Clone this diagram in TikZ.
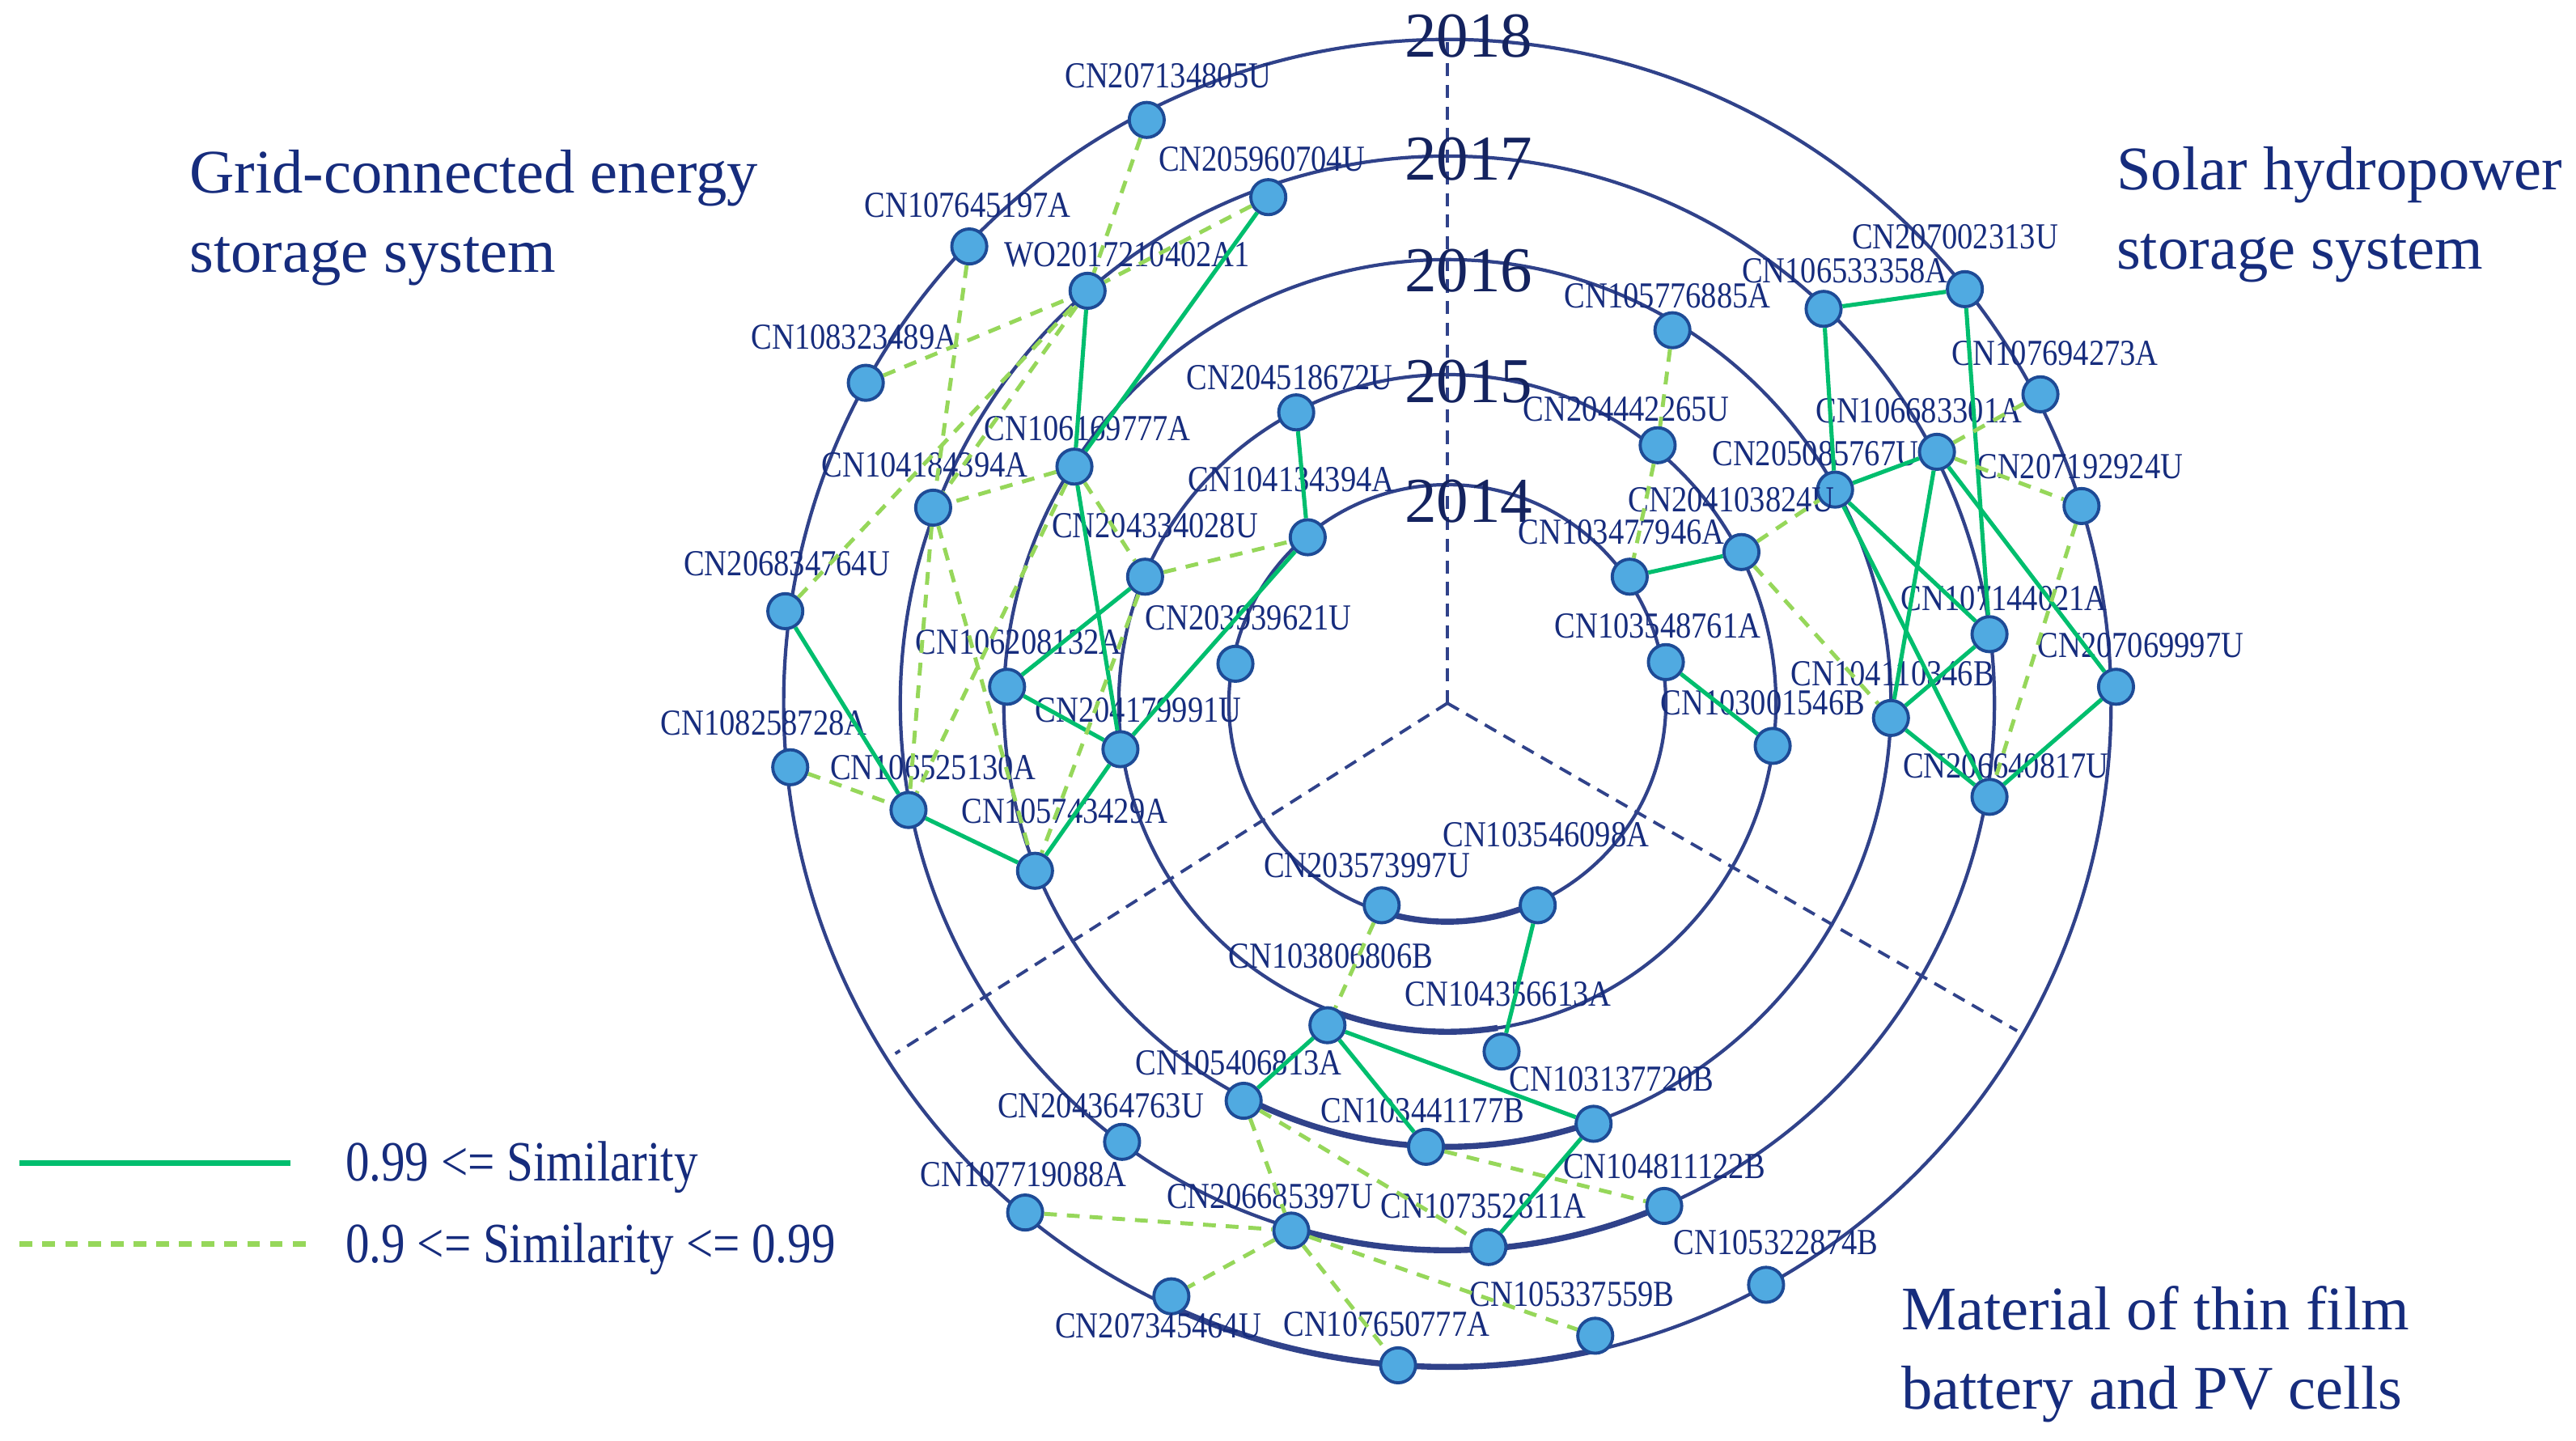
\documentclass[tikz,border=0pt]{standalone}
\usepackage{fontspec}
\setmainfont{Liberation Serif}
\newfontfamily\lblfont{Liberation Serif}[FakeStretch=0.85]
\newfontfamily\legfont{Liberation Serif}[FakeStretch=0.84]
\definecolor{textc}{RGB}{22,44,125}
\definecolor{yearc}{RGB}{20,35,95}
\definecolor{ringc}{RGB}{48,66,138}
\definecolor{nodef}{RGB}{80,170,225}
\definecolor{nodeb}{RGB}{30,75,150}
\definecolor{hic}{RGB}{0,190,110}
\definecolor{midc}{RGB}{150,215,90}
\newcommand{\patent}[4]{\node[pnode] (#1) at (#2) {}; \node[plabel] (#1t) at (#3) {#4};}
\begin{document}
\begin{tikzpicture}[x=0.20306mm,y=-0.20306mm,
  ring/.style={draw=ringc, line width=1.2pt},
  thickarc/.style={draw=ringc, line width=2.1pt},
  sector/.style={draw=ringc, line width=1.1pt, dash pattern=on 4.6pt off 3pt},
  pnode/.style={circle, draw=nodeb, fill=nodef, line width=1.1pt, minimum size=12.3pt, inner sep=0pt},
  plabel/.style={font=\lblfont\fontsize{12.9}{14}\selectfont, text=textc, inner sep=0pt},
  hi/.style={draw=hic, line width=1.45pt},
  mid/.style={draw=midc, line width=1.4pt, dash pattern=on 4.5pt off 3.5pt},
  title/.style={font=\fontsize{21.8}{27.7}\selectfont, text=textc, inner sep=0pt, anchor=base west},
  year/.style={font=\fontsize{22.5}{26}\selectfont, text=yearc, inner sep=0pt},
  legtext/.style={font=\legfont\fontsize{20}{24}\selectfont, text=textc, inner sep=0pt, anchor=base west}]
\useasboundingbox (0,0) rectangle (1568,877);
\coordinate (C) at (881,428);
% rings
\draw[ring] (C) circle[radius=133];
\draw[ring] (C) circle[radius=200];
\draw[ring] (C) circle[radius=270];
\draw[ring] (C) circle[radius=333];
\draw[ring] (C) circle[radius=404];
% bolder arcs at the bottom
\draw[thickarc] (C) ++(65.9:133) arc[start angle=65.9, end angle=108, radius=133];
\draw[thickarc] (C) ++(81.2:200) arc[start angle=81.2, end angle=110.4, radius=200];
\draw[thickarc] (C) ++(70.8:270) arc[start angle=70.8, end angle=117.1, radius=270];
\draw[thickarc] (C) ++(66.7:333) arc[start angle=66.7, end angle=106.5, radius=333];
\draw[thickarc] (C) ++(76.8:404) arc[start angle=76.8, end angle=115, radius=404];
% sector lines
\draw[sector] (C) -- ++(-90:406);
\draw[sector] (C) -- ++(147.6:398);
\draw[sector] (C) -- ++(29.9:400);
% year labels
\node[year] (y18) at (894,22) {2018};
\node[year] (y17) at (894,97) {2017};
\node[year] (y16) at (894,165) {2016};
\node[year] (y15) at (894,232) {2015};
\node[year] (y14) at (894,305) {2014};
% titles
\node[title] (t1a) at (115,117.5) {Grid-connected energy};
\node[title] (t1b) at (115,165.5) {storage system};
\node[title] (t2a) at (1288,115.5) {Solar hydropower};
\node[title] (t2b) at (1288,163.5) {storage system};
\node[title] (t3a) at (1157,809.5) {Material of thin film};
\node[title] (t3b) at (1157,857.5) {battery and PV cells};
% left group
\patent{n1}{698,73}{711,46}{CN207134805U}
\patent{n2}{772,120}{768,97}{CN205960704U}
\patent{n3}{590,150}{589,125}{CN107645197A}
\patent{n4}{662,177}{686,155}{WO2017210402A1}
\patent{n5}{527,233}{520,205}{CN108323489A}
\patent{n6}{654,284}{662,261}{CN106169777A}
\patent{n7}{568,309}{563,283}{CN104184394A}
\patent{n8}{789,251}{785,230}{CN204518672U}
\patent{n9}{796,327}{786,292}{CN104134394A}
\patent{n10}{697,351}{703,320}{CN204334028U}
\patent{n11}{478,372}{479,343}{CN206834764U}
\patent{n12}{613,418}{620,391}{CN106208132A}
\patent{n13}{752,404}{760,376}{CN203939621U}
\patent{n14}{682,456}{693,432}{CN204179991U}
\patent{n15}{481,467}{465,440}{CN108258728A}
\patent{n16}{553,493}{568,467}{CN106525130A}
\patent{n17}{630,530}{648,494}{CN105743429A}
% right group
\patent{n18}{1196,176}{1190,144}{CN207002313U}
\patent{n19}{1110,188}{1123,165}{CN106533358A}
\patent{n20}{1018,201}{1015,180}{CN105776885A}
\patent{n21}{1242,240}{1251,215}{CN107694273A}
\patent{n22}{1009,271}{990,249}{CN204442265U}
\patent{n23}{1179,275}{1168,250}{CN106683301A}
\patent{n24}{1117,298}{1105,276}{CN205085767U}
\patent{n25}{1060,336}{1054,304}{CN204103824U}
\patent{n26}{992,351}{987,324}{CN103477946A}
\patent{n27}{1267,308}{1266,284}{CN207192924U}
\patent{n28}{1014,403}{1009,381}{CN103548761A}
\patent{n29}{1211,386}{1220,364}{CN107144021A}
\patent{n30}{1151,437}{1152,410}{CN104110346B}
\patent{n31}{1079,454}{1073,428}{CN103001546B}
\patent{n32}{1288,418}{1303,393}{CN207069997U}
\patent{n33}{1211,485}{1221,466}{CN206640817U}
% bottom group
\patent{n34}{841,551}{832,527}{CN203573997U}
\patent{n35}{936,551}{941,508}{CN103546098A}
\patent{n36}{808,624}{810,582}{CN103806806B}
\patent{n37}{914,640}{918,605}{CN104356613A}
\patent{n38}{757,670}{754,647}{CN105406813A}
\patent{n39}{970,684}{981,657}{CN103137720B}
\patent{n40}{683,695}{670,673}{CN204364763U}
\patent{n41}{868,698}{866,676}{CN103441177B}
\patent{n42}{1013,734}{1013,710}{CN104811122B}
\patent{n43}{624,738}{623,715}{CN107719088A}
\patent{n44}{786,749}{773,728}{CN206685397U}
\patent{n45}{906,759}{903,734}{CN107352811A}
\patent{n46}{1075,782}{1081,756}{CN105322874B}
\patent{n47}{713,789}{705,807}{CN207345464U}
\patent{n48}{851,831}{844,806}{CN107650777A}
\patent{n49}{971,813}{957,788}{CN105337559B}
% left group: high similarity
\draw[hi] (n2) -- (n6);
\draw[hi] (n4) -- (n6);
\draw[hi] (n8) -- (n9);
\draw[hi] (n6) -- (n14);
\draw[hi] (n10) -- (n12);
\draw[hi] (n12) -- (n14);
\draw[hi] (n9) -- (n14);
\draw[hi] (n14) -- (n17);
\draw[hi] (n11) -- (n16);
\draw[hi] (n16) -- (n17);
% left group: medium similarity
\draw[mid] (n1) -- (n4);
\draw[mid] (n3) -- (n7);
\draw[mid] (n5) -- (n4);
\draw[mid] (n2) -- (n4);
\draw[mid] (n4) -- (n7);
\draw[mid] (n11) -- (n4);
\draw[mid] (n6) -- (n7);
\draw[mid] (n6) -- (n10);
\draw[mid] (n10) -- (n9);
\draw[mid] (n7) -- (n17);
\draw[mid] (n7) -- (n16);
\draw[mid] (n6) -- (n16);
\draw[mid] (n15) -- (n16);
\draw[mid] (n10) -- (n17);
% right group: high similarity
\draw[hi] (n19) -- (n18);
\draw[hi] (n19) -- (n24);
\draw[hi] (n18) -- (n29);
\draw[hi] (n24) -- (n23);
\draw[hi] (n26) -- (n25);
\draw[hi] (n24) -- (n29);
\draw[hi] (n24) -- (n33);
\draw[hi] (n23) -- (n30);
\draw[hi] (n23) -- (n32);
\draw[hi] (n30) -- (n29);
\draw[hi] (n30) -- (n33);
\draw[hi] (n33) -- (n32);
\draw[hi] (n28) -- (n31);
% right group: medium similarity
\draw[mid] (n20) -- (n22);
\draw[mid] (n22) -- (n26);
\draw[mid] (n25) -- (n24);
\draw[mid] (n25) -- (n30);
\draw[mid] (n23) -- (n21);
\draw[mid] (n23) -- (n27);
\draw[mid] (n27) -- (n33);
% bottom group: high similarity
\draw[hi] (n35) -- (n37);
\draw[hi] (n36) -- (n38);
\draw[hi] (n36) -- (n41);
\draw[hi] (n36) -- (n39);
\draw[hi] (n39) -- (n45);
% bottom group: medium similarity
\draw[mid] (n34) -- (n36);
\draw[mid] (n38) -- (n44);
\draw[mid] (n38) -- (n45);
\draw[mid] (n41) -- (n42);
\draw[mid] (n43) -- (n44);
\draw[mid] (n44) -- (n47);
\draw[mid] (n44) -- (n48);
\draw[mid] (n44) -- (n49);
% legend
\coordinate (la1) at (12,708);
\coordinate (la2) at (177,708);
\coordinate (lb1) at (12,757);
\coordinate (lb2) at (190,757);
\draw[hi, line width=2pt] (la1) -- (la2);
\draw[mid, line width=2pt] (lb1) -- (lb2);
\node[legtext] (lt1) at (210,718.5) {0.99 <= Similarity};
\node[legtext] (lt2) at (210,768.5) {0.9 <= Similarity <= 0.99};
\end{tikzpicture}
\end{document}
